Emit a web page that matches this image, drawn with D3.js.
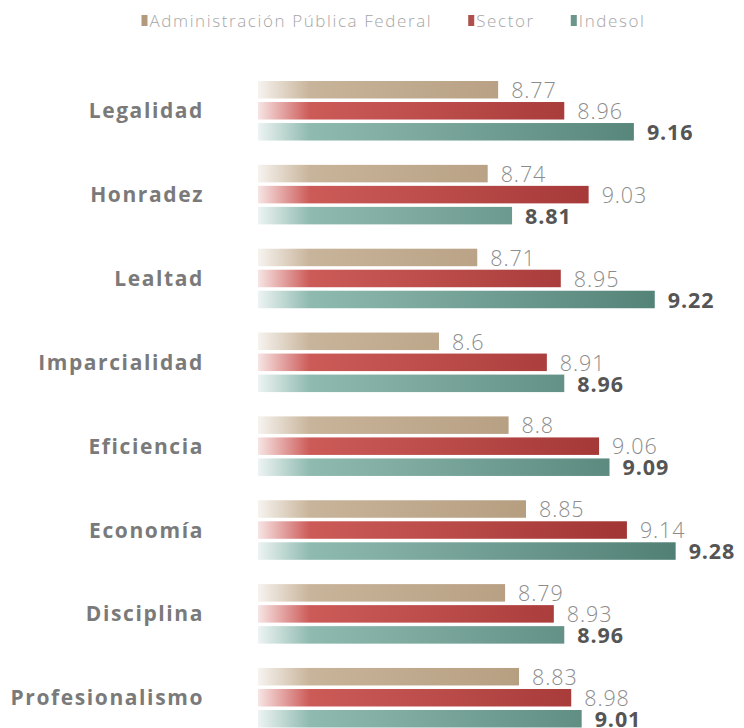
<!DOCTYPE html>
<html>
<head>
<meta charset="utf-8">
<script src="https://cdn.jsdelivr.net/npm/d3@7"></script>
<style>
  body { margin: 0; background: #fff; }
  svg { display: block; }
</style>
</head>
<body>
<svg id="chart" width="744" height="728"></svg>
<script>
// datos
var categories = ["Legalidad", "Honradez", "Lealtad", "Imparcialidad", "Eficiencia", "Economía", "Disciplina", "Profesionalismo"];
var seriesNames = ["Administración Pública Federal", "Sector", "Indesol"];
var apfValues = [8.77, 8.74, 8.71, 8.6, 8.8, 8.85, 8.79, 8.83];
var sectorValues = [8.96, 9.03, 8.95, 8.91, 9.06, 9.14, 8.93, 8.98];
var indesolValues = [9.16, 8.81, 9.22, 8.96, 9.09, 9.28, 8.96, 9.01];

// colores: [claro, oscuro]
var seriesColors = [["#c8b49a", "#a88d6d"], ["#cc5b58", "#982e2d"], ["#8fbab0", "#4e7d72"]];
var legendColors = ["#b39a7c", "#b0504c", "#6a968b"];

var svg = d3.select("#chart");
var FONT = "'Open Sans', sans-serif";

var x = d3.scaleLinear().domain([8.08, 9.30]).range([258, 682.6]);
var y = d3.scaleBand().domain(categories).range([81, 727.5]).paddingInner(0.29).paddingOuter(0);
var ySub = d3.scaleBand().domain([0, 1, 2]).range([0, y.bandwidth()]).paddingInner(0.167);

// degradados que se desvanecen hacia la izquierda
var defs = svg.append("defs");
seriesColors.forEach(function(c, i) {
    var grad = defs.append("linearGradient")
        .attr("id", "grad" + i)
        .attr("gradientUnits", "userSpaceOnUse")
        .attr("x1", x.range()[0] - 10).attr("x2", 690)
        .attr("y1", 0).attr("y2", 0);
    grad.append("stop").attr("offset", 0).attr("stop-color", "#fff");
    grad.append("stop").attr("offset", 0.14).attr("stop-color", c[0]);
    grad.append("stop").attr("offset", 1).attr("stop-color", c[1]);
});

var allValues = [apfValues, sectorValues, indesolValues];
var rows = [];
categories.forEach(function(cat, ci) {
    allValues.forEach(function(vals, si) {
        rows.push({cat: cat, s: si, v: vals[ci]});
    });
});

// barras
svg.append("g").selectAll("rect")
    .data(rows)
    .enter().append("rect")
    .attr("x", x.range()[0])
    .attr("y", function(d) { return y(d.cat) + ySub(d.s); })
    .attr("width", function(d) { return x(d.v) - x.range()[0]; })
    .attr("height", ySub.bandwidth())
    .attr("fill", function(d) { return "url(#grad" + d.s + ")"; });

// valores
svg.append("g").selectAll("text")
    .data(rows)
    .enter().append("text")
    .attr("x", function(d) { return x(d.v) + 13; })
    .attr("y", function(d) { return y(d.cat) + ySub(d.s) + ySub.bandwidth() - 0.5; })
    .attr("font-family", FONT)
    .attr("font-size", 21.5)
    .attr("letter-spacing", 0.9)
    .attr("font-weight", function(d) { return d.s == 2 ? 700 : 300; })
    .attr("fill", function(d) { return d.s == 2 ? "#555" : "#8c8c8c"; })
    .text(function(d) { return String(d.v); });

// etiquetas de categoría
svg.append("g").selectAll("text")
    .data(categories)
    .enter().append("text")
    .attr("x", 204)
    .attr("y", function(d) { return y(d) + ySub(1) + ySub.bandwidth() / 2; })
    .attr("dy", "0.36em")
    .attr("text-anchor", "end")
    .attr("font-family", FONT)
    .attr("font-size", 21)
    .attr("font-weight", 700)
    .attr("letter-spacing", 1.6)
    .attr("fill", "#7a7a7a")
    .text(function(d) { return d; });

// leyenda
var legend = svg.append("g");
var lx = 0;
seriesNames.forEach(function(name, i) {
    var item = legend.append("g").attr("transform", "translate(" + lx + ",0)");
    item.append("rect").attr("x", 0).attr("y", 15).attr("width", 6).attr("height", 11)
        .attr("fill", legendColors[i]);
    var t = item.append("text")
        .attr("x", 8).attr("y", 27)
        .attr("font-family", FONT)
        .attr("font-size", 17)
        .attr("font-weight", 300)
        .attr("letter-spacing", 1.6)
        .attr("fill", "#a6a6a6")
        .text(name);
    lx += 8 + t.node().getComputedTextLength() + 36;
});
var lw = lx - 36;
legend.attr("transform", "translate(" + (393.5 - lw / 2) + ",0)");
</script>
</body>
</html>
